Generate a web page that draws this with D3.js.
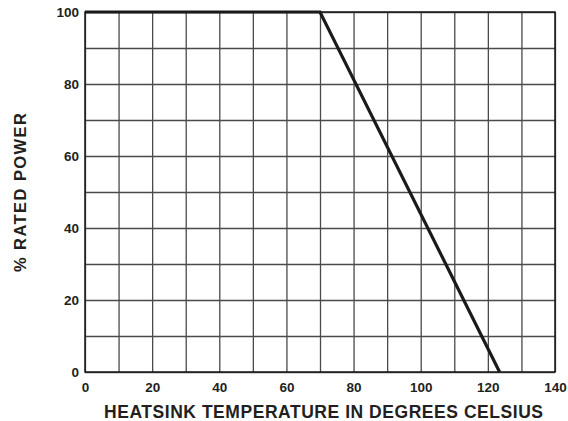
<!DOCTYPE html>
<html>
<head>
<meta charset="utf-8">
<script src="https://cdn.jsdelivr.net/npm/d3@7"></script>
<style>
  body { margin: 0; background: #fff; }
  text { font-family: "Liberation Sans", Arial, sans-serif; font-weight: bold; fill: #231f20; }
</style>
</head>
<body>
<div id="chart"></div>
<script>
// Derating curve: % rated power vs heatsink temperature
const temps = [0, 70, 123.5];
const power = [100, 100, 0];
const xTicks = [0, 20, 40, 60, 80, 100, 120, 140];
const yTicks = [0, 20, 40, 60, 80, 100];
const xGrid = d3.range(0, 141, 10);
const yGrid = d3.range(0, 101, 10);

const width = 568, height = 421;
const margin = { top: 12, right: 13, bottom: 49, left: 85 };
const w = width - margin.left - margin.right;
const h = height - margin.top - margin.bottom;

const x = d3.scaleLinear().domain([0, 140]).range([0, w]);
const y = d3.scaleLinear().domain([0, 100]).range([h, 0]);

const svg = d3.select('#chart').append('svg')
  .attr('width', width).attr('height', height);

const g = svg.append('g').attr('transform', `translate(${margin.left},${margin.top})`);

// gridlines
g.append('g')
  .call(d3.axisBottom(x).tickValues(xGrid).tickSize(h).tickFormat(''))
  .call((s) => s.select('.domain').remove())
  .selectAll('line').attr('stroke', '#4a4a4a').attr('stroke-width', 1.3);

g.append('g')
  .call(d3.axisLeft(y).tickValues(yGrid).tickSize(-w).tickFormat(''))
  .call((s) => s.select('.domain').remove())
  .selectAll('line').attr('stroke', '#4a4a4a').attr('stroke-width', 1.3);

// frame
g.append('rect').attr('width', w).attr('height', h)
  .attr('fill', 'none').attr('stroke', '#1a1a1a').attr('stroke-width', 1.5);

// tick labels
g.append('g')
  .attr('transform', `translate(0,${h})`)
  .call(d3.axisBottom(x).tickValues(xTicks).tickSize(0).tickPadding(10))
  .call((s) => s.select('.domain').remove())
  .selectAll('text').style('font-size', '13.5px').attr('fill', '#231f20');

g.append('g')
  .call(d3.axisLeft(y).tickValues(yTicks).tickSize(0).tickPadding(6))
  .call((s) => s.select('.domain').remove())
  .selectAll('text').style('font-size', '13.5px').attr('fill', '#231f20');

svg.selectAll('.tick text').style('font-family', '"Liberation Sans", Arial, sans-serif').style('font-weight', 'bold');

// curve
const pts = temps.map((t, i) => [t, power[i]]);
g.append('path')
  .datum(pts)
  .attr('fill', 'none')
  .attr('stroke', '#1a1a1a')
  .attr('stroke-width', 3.2)
  .attr('stroke-linejoin', 'miter')
  .attr('d', d3.line().x((d) => x(d[0])).y((d) => y(d[1])));

// axis titles
svg.append('text')
  .attr('x', 104)
  .attr('y', 418)
  .attr('textLength', 439)
  .attr('lengthAdjust', 'spacing')
  .style('font-size', '17.5px')
  .text('HEATSINK TEMPERATURE IN DEGREES CELSIUS');

svg.append('text')
  .attr('transform', 'translate(26,272) rotate(-90)')
  .attr('textLength', 159)
  .attr('lengthAdjust', 'spacing')
  .style('font-size', '16.5px')
  .text('% RATED POWER');
</script>
</body>
</html>
